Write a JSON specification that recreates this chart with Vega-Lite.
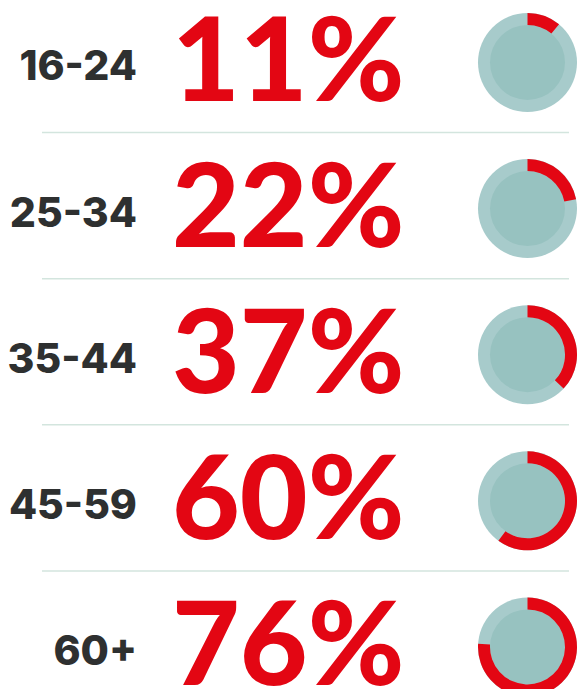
{
  "$schema": "https://vega.github.io/schema/vega-lite/v6.json",
  "width": 578,
  "height": 689,
  "padding": 0,
  "autosize": {"type": "none"},
  "background": "white",
  "config": {"view": {"stroke": null}},
  "data": {
    "values": [
      {"age": "16-24", "pct": 0.11},
      {"age": "25-34", "pct": 0.22},
      {"age": "35-44", "pct": 0.37},
      {"age": "45-59", "pct": 0.60},
      {"age": "60+", "pct": 0.76}
    ]
  },
  "encoding": {
    "y": {
      "field": "age",
      "type": "nominal",
      "axis": null,
      "scale": {
        "domain": ["16-24", "25-34", "35-44", "45-59", "60+"],
        "range": [-10.6, 720],
        "paddingInner": 0,
        "paddingOuter": 0
      }
    }
  },
  "layer": [
    {
      "transform": [{"filter": "datum.age != '16-24'"}],
      "mark": {"type": "rule", "color": "#d3e5de", "strokeWidth": 1.5, "yOffset": -3},
      "encoding": {
        "y": {"field": "age", "type": "nominal", "bandPosition": 0},
        "x": {"value": 42},
        "x2": {"value": 569}
      }
    },
    {
      "mark": {"type": "arc", "radius": 49.5, "theta": 0, "theta2": 6.2832, "color": "#a7cbcb"},
      "encoding": {"x": {"value": 527.5}}
    },
    {
      "mark": {"type": "arc", "radius": 37.5, "theta": 0, "theta2": 6.2832, "color": "#97c2c0"},
      "encoding": {"x": {"value": 527.5}}
    },
    {
      "mark": {"type": "arc", "radius": 49.5, "radius2": 37.5, "color": "#e30613"},
      "encoding": {
        "x": {"value": 527.5},
        "theta": {
          "field": "pct",
          "type": "quantitative",
          "stack": null,
          "scale": {"domain": [0, 1], "range": [0, 6.2832]}
        },
        "theta2": {"value": 0}
      }
    },
    {
      "mark": {
        "type": "text",
        "align": "right",
        "baseline": "alphabetic",
        "dy": 18,
        "font": "Inter",
        "fontWeight": 800,
        "fontSize": 41,
        "color": "#2e3030"
      },
      "encoding": {
        "x": {"value": 137},
        "text": {"field": "age", "type": "nominal"}
      }
    },
    {
      "mark": {
        "type": "text",
        "align": "left",
        "baseline": "alphabetic",
        "dy": 38.5,
        "font": "Lato",
        "fontWeight": 900,
        "fontSize": 117,
        "color": "#e30613"
      },
      "encoding": {
        "x": {"value": 172},
        "text": {"field": "pct", "type": "quantitative", "format": ".0%"}
      }
    }
  ]
}
